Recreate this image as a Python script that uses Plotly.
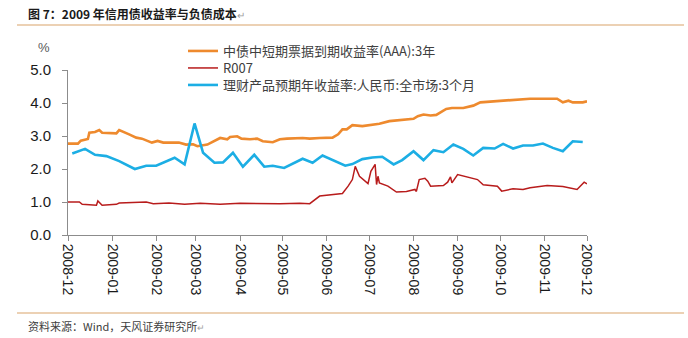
import plotly.graph_objects as go

# ---- data ----
orange_dates = ["2008-12-01","2008-12-08","2008-12-10","2008-12-15","2008-12-16","2008-12-20","2008-12-23","2008-12-25",
    "2009-01-04","2009-01-06","2009-01-13","2009-01-18","2009-01-22","2009-01-29","2009-02-02","2009-02-06",
    "2009-02-17","2009-02-22","2009-02-27","2009-03-02","2009-03-09","2009-03-13","2009-03-18","2009-03-23",
    "2009-03-25","2009-03-30","2009-04-02","2009-04-08","2009-04-13","2009-04-17","2009-04-24","2009-04-29",
    "2009-05-04","2009-05-15","2009-05-20","2009-05-27","2009-06-05","2009-06-09","2009-06-12","2009-06-15",
    "2009-06-19","2009-06-26","2009-07-08","2009-07-15","2009-07-20","2009-08-01","2009-08-04","2009-08-08",
    "2009-08-13","2009-08-17","2009-08-24","2009-08-28","2009-09-05","2009-09-12","2009-09-17","2009-09-26",
    "2009-10-03","2009-10-13","2009-10-22","2009-11-10","2009-11-14","2009-11-18","2009-11-21","2009-11-28",
    "2009-12-01"]
orange_vals = [2.77,2.77,2.86,2.91,3.10,3.12,3.18,3.10,
    3.08,3.18,3.05,2.95,2.92,2.80,2.85,2.80,
    2.80,2.74,2.75,2.69,2.74,2.84,2.94,2.90,
    2.97,2.99,2.92,2.90,2.92,2.84,2.81,2.90,
    2.92,2.94,2.92,2.94,2.95,3.05,3.20,3.20,
    3.33,3.30,3.37,3.45,3.47,3.52,3.60,3.65,
    3.62,3.64,3.82,3.85,3.85,3.92,4.02,4.05,
    4.07,4.10,4.13,4.13,4.02,4.07,4.02,4.02,
    4.05]

red_dates = ["2008-12-01","2008-12-09","2008-12-11","2008-12-21","2008-12-22","2008-12-25","2009-01-04","2009-01-06",
    "2009-01-25","2009-01-30","2009-02-10","2009-02-21","2009-03-04","2009-03-18","2009-04-01","2009-04-15",
    "2009-04-29","2009-05-13","2009-05-20","2009-05-27","2009-06-03","2009-06-12","2009-06-16","2009-06-19",
    "2009-06-21","2009-06-24","2009-06-30","2009-07-02","2009-07-05","2009-07-06","2009-07-07","2009-07-08",
    "2009-07-14","2009-07-20","2009-07-27","2009-08-02","2009-08-03","2009-08-05","2009-08-09","2009-08-11",
    "2009-08-13","2009-08-22","2009-08-25","2009-08-27","2009-08-28","2009-09-01","2009-09-15","2009-09-19",
    "2009-09-29","2009-10-02","2009-10-10","2009-10-17","2009-10-22","2009-11-03","2009-11-14","2009-11-24",
    "2009-11-29","2009-12-01"]
red_vals = [1.00,1.00,0.93,0.90,1.03,0.90,0.93,0.97,
    1.00,0.95,0.97,0.93,0.96,0.93,0.96,0.95,
    0.95,0.96,0.95,1.18,1.22,1.26,1.48,1.68,
    2.08,1.78,1.56,1.93,2.14,1.53,1.78,1.58,
    1.48,1.30,1.32,1.38,1.32,1.68,1.72,1.63,
    1.48,1.50,1.60,1.76,1.58,1.83,1.68,1.52,
    1.48,1.33,1.40,1.38,1.43,1.50,1.47,1.38,
    1.60,1.55]

blue_dates = ["2008-12-04","2008-12-13","2008-12-20","2008-12-28","2009-01-06","2009-01-17","2009-01-25","2009-02-01",
    "2009-02-14","2009-02-21","2009-02-28","2009-03-06","2009-03-14","2009-03-20","2009-03-27","2009-04-03",
    "2009-04-11","2009-04-18","2009-04-24","2009-05-02","2009-05-15","2009-05-22","2009-05-29","2009-06-14",
    "2009-06-19","2009-06-26","2009-07-03","2009-07-10","2009-07-18","2009-07-24","2009-08-01","2009-08-08",
    "2009-08-15","2009-08-22","2009-08-29","2009-09-05","2009-09-12","2009-09-19","2009-09-27","2009-10-03",
    "2009-10-10","2009-10-17","2009-10-24","2009-10-31","2009-11-07","2009-11-14","2009-11-21","2009-11-28"]
blue_vals = [2.47,2.61,2.43,2.39,2.24,2.00,2.10,2.10,
    2.34,2.14,3.38,2.49,2.19,2.20,2.49,2.07,
    2.43,2.07,2.10,2.03,2.31,2.19,2.41,2.10,
    2.15,2.30,2.35,2.37,2.14,2.27,2.54,2.27,
    2.57,2.51,2.74,2.61,2.41,2.64,2.62,2.76,
    2.62,2.71,2.71,2.77,2.64,2.54,2.84,2.82]

names = ["中债中短期票据到期收益率(AAA):3年", "R007", "理财产品预期年收益率:人民币:全市场:3个月"]
y_ticks = [0, 1, 2, 3, 4, 5]
title_text = "图 7：2009 年信用债收益率与负债成本"
source_text = "资料来源：Wind，天风证券研究所"

# ---- layout geometry (pixels) ----
W, H = 688, 338
L, R, T, B = 68, 101, 70, 103
PW, PH = W - L - R, H - T - B

def px(x):
    return (x - L) / PW

def py(y):
    return (H - B - y) / PH

CJK = "Noto Sans CJK SC"
ARIAL = "Liberation Sans, Arial"

fig = go.Figure()
fig.add_trace(go.Scatter(x=orange_dates, y=orange_vals, mode="lines", name=names[0],
                         line=dict(color="#EE8A2E", width=2.6), legend="legend"))
fig.add_trace(go.Scatter(x=red_dates, y=red_vals, mode="lines", name=names[1],
                         line=dict(color="#B81C1C", width=1.5), legend="legend2"))
fig.add_trace(go.Scatter(x=blue_dates, y=blue_vals, mode="lines", name=names[2],
                         line=dict(color="#1CAEE4", width=2.6), legend="legend3"))

def leg(top):
    return dict(x=px(183), y=py(top), xanchor="left", yanchor="top",
                font=dict(family=CJK, size=13, color="#404040"),
                bgcolor="rgba(0,0,0,0)", itemwidth=30)

fig.update_layout(
    width=W, height=H,
    margin=dict(l=L, r=R, t=T, b=B),
    paper_bgcolor="white", plot_bgcolor="white",
    showlegend=True,
    legend=leg(36), legend2=leg(53), legend3=leg(70),
    xaxis=dict(type="date", range=["2008-12-01", "2009-12-01"],
               tickformat="%Y-%m", dtick="M1", tick0="2008-12-01",
               tickangle=90, showgrid=False, zeroline=False,
               showline=True, linecolor="#8C8C8C", linewidth=1,
               ticks="outside", ticklen=5, tickcolor="#8C8C8C",
               tickfont=dict(family=ARIAL, size=14, color="#1A1A1A")),
    yaxis=dict(range=[0, 5], tickvals=y_ticks, tickformat=".1f",
               showgrid=False, zeroline=False,
               showline=True, linecolor="#8C8C8C", linewidth=1,
               ticks="outside", ticklen=5, tickcolor="#8C8C8C",
               ticklabelstandoff=8,
               tickfont=dict(family=ARIAL, size=15, color="#1A1A1A")),
)

# title, unit, source
fig.add_annotation(x=px(26), y=py(13), xref="paper", yref="paper", xanchor="left", yanchor="middle",
                   text="<b>" + title_text + "</b><span style='color:#A0A0A0;font-size:10px'>↵</span>",
                   showarrow=False, font=dict(family=CJK, size=12, color="#1A1A1A"))
fig.add_annotation(x=px(44), y=py(47), xref="paper", yref="paper", xanchor="center", yanchor="middle",
                   text="%", showarrow=False, font=dict(family=ARIAL, size=13, color="#595959"))
fig.add_annotation(x=px(26), y=py(326), xref="paper", yref="paper", xanchor="left", yanchor="middle",
                   text=source_text + "<span style='color:#A0A0A0;font-size:9px'>↵</span>",
                   showarrow=False, font=dict(family=CJK, size=11, color="#404040"))

# decorative rules
for yy in (25, 313):
    fig.add_shape(type="line", xref="paper", yref="paper", x0=px(17), x1=px(684), y0=py(yy), y1=py(yy),
                  line=dict(color="#D9A46B", width=1.2))

fig.write_html("out.html")
